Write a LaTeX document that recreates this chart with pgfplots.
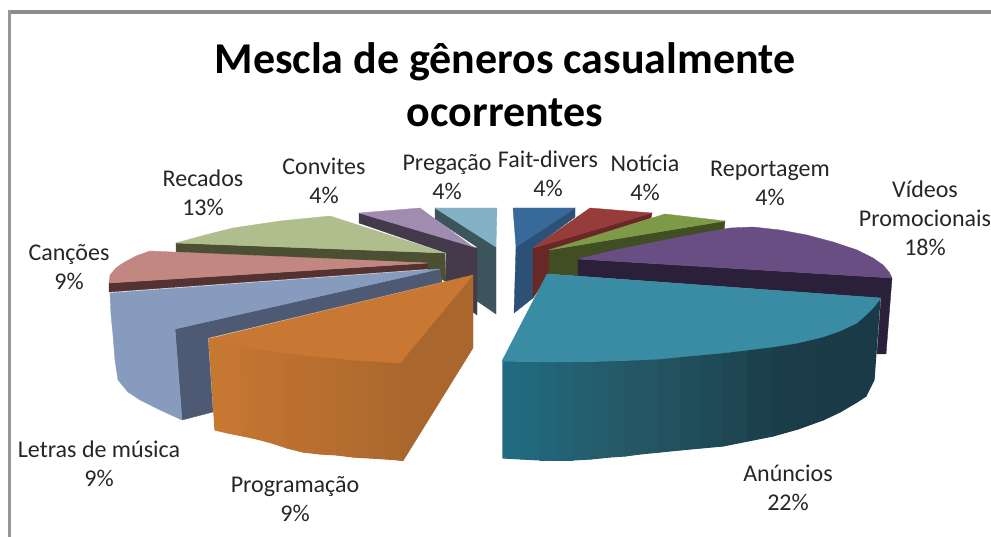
\documentclass[border=0pt]{standalone}
\usepackage{pgfplots}
\usepackage{fontspec}
\setmainfont{Carlito}
\pgfplotsset{compat=1.18}
\newcommand\poly[2]{\addplot[fill={#1},draw={#1},line width=0.35pt,forget plot] coordinates {#2} --cycle;}
\newcommand\strip[2]{\addplot[fill={#1},draw={#1},line width=1.1pt,line join=round,forget plot] coordinates {#2} --cycle;}
\newcommand\rgbc[3]{rgb,255:red,#1;green,#2;blue,#3}
\newcommand\lab[3]{\node[align=center,font=\fontsize{24}{29}\selectfont,text=black!85] at (axis cs:#1,#2) {#3};}
\begin{document}
\begin{tikzpicture}
\useasboundingbox (0,0) rectangle (991pt,537pt);
\begin{axis}[
  at={(0,0)}, anchor=south west,
  scale only axis, width=991pt, height=537pt,
  xmin=0, xmax=991, ymin=0, ymax=537, y dir=reverse,
  axis lines=none, clip=true
]
% frame
\poly{\rgbc{140}{140}{140}}{(8,10)(991,10)(991,13)(8,13)}
\poly{\rgbc{150}{150}{150}}{(8,10)(10,10)(10,537)(8,537)}
% Fait-divers
\poly{\rgbc{45}{80}{118}}{(516,247)(575,208)(575,217)(533,248)(533,298)(514,313)}
\poly{\rgbc{55}{105}{155}}{(513,208)(575,208)(516,247)}
% Pregacao
\poly{\rgbc{60}{85}{92}}{(435,208)(496,247)(496,314)(477,301)(477,247)(435,219)}
\poly{\rgbc{130}{178}{195}}{(435,208)(497,208)(496,247)}
% Convites
\poly{\rgbc{68}{58}{75}}{(359,213)(477,248)(477,315)(473,312)(473,275)(446,282)(446,253)(359,223)}
\poly{\rgbc{160}{140}{175}}{(359,213)(420,208)(473,247)(477,248)}
% Recados
\poly{\rgbc{75}{80}{50}}{(176,243)(445,253)(446,282)(428,270)(428,263)(176,253)}
\poly{\rgbc{175}{190}{140}}{(176,243)(205,235)(233,228)(280,221)(330,216)(445,253)}
% Cancoes
\poly{\rgbc{85}{50}{50}}{(109,283)(428,263)(428,269)(109,292)}
\poly{\rgbc{195}{135}{130}}{(109,283)(110,275)(116,268)(123,263)(136,256)(150,251)(428,263)}
% Letras de musica
\poly{\rgbc{78}{90}{115}}{(175,329)(440,269)(442,282)(208,338)(213,412)(182,420)}
\poly{\rgbc{135}{155}{190}}{(110,293)(440,269)(175,329)(182,420)(160,410)(140,400)(128,392)(118,380)(115,360)(113,335)(111,315)}
% Noticia
\poly{\rgbc{105}{40}{38}}{(533,248)(652,213)(651,218)(550,250)(549,274)(533,298)}
\poly{\rgbc{150}{60}{58}}{(533,248)(590,208)(652,213)}
% Reportagem
\poly{\rgbc{65}{77}{35}}{(549,250)(725,221)(724,231)(578,259)(578,276)(549,274)}
\poly{\rgbc{125}{155}{70}}{(549,250)(665,214)(725,221)}
% Videos Promocionais
\poly{\rgbc{42}{32}{58}}{(578,259)(892,278)(886,354)(877,354)(881,298)(578,276)}
\poly{\rgbc{104}{78}{130}}{(578,259)(615,250)(650,243)(680,237)(707,232)(730,228)(753,227)(780,230)(807,235)(833,242)(857,250)(873,258)(883,265)(889,272)(892,278)}
% Anuncios side
\strip{\rgbc{33}{107}{128}}{(503,361)(521,362)(521,459)(503,458)}
\strip{\rgbc{34}{104}{124}}{(521,362)(540,362)(540,460)(521,459)}
\strip{\rgbc{35}{101}{120}}{(540,362)(556,362)(556,460)(540,460)}
\strip{\rgbc{35}{98}{116}}{(556,362)(573,362)(573,460)(556,460)}
\strip{\rgbc{36}{95}{112}}{(573,362)(591,362)(591,459)(573,460)}
\strip{\rgbc{36}{92}{108}}{(591,362)(610,361)(610,457)(591,459)}
\strip{\rgbc{37}{90}{105}}{(610,361)(625,361)(625,456)(610,457)}
\strip{\rgbc{36}{87}{102}}{(625,361)(640,360)(640,454)(625,456)}
\strip{\rgbc{36}{85}{99}}{(640,360)(660,359)(660,452)(640,454)}
\strip{\rgbc{34}{81}{95}}{(660,359)(680,357)(680,450)(660,452)}
\strip{\rgbc{33}{78}{91}}{(680,357)(701,355)(701,448)(680,450)}
\strip{\rgbc{31}{74}{87}}{(701,355)(723,353)(723,446)(701,448)}
\strip{\rgbc{30}{70}{83}}{(723,353)(748,350)(748,441)(723,446)}
\strip{\rgbc{28}{65}{78}}{(748,350)(773,347)(773,436)(748,441)}
\strip{\rgbc{27}{61}{74}}{(773,347)(798,343)(798,429)(773,436)}
\strip{\rgbc{26}{59}{71}}{(798,343)(823,337)(823,420)(798,429)}
\strip{\rgbc{26}{58}{70}}{(823,337)(840,331)(840,412)(823,420)}
\strip{\rgbc{25}{58}{70}}{(840,331)(857,323)(857,402)(840,412)}
\strip{\rgbc{25}{58}{70}}{(857,323)(867,314)(866,396)(857,402)}
\strip{\rgbc{25}{58}{70}}{(867,314)(880,299)(874,380)(866,396)}
% Anuncios top
\poly{\rgbc{57}{140}{163}}{(547,274)(881,298)(874,307)(867,314)(857,323)(840,331)(823,337)(798,343)(773,347)(748,350)(723,353)(701,355)(680,357)(660,359)(640,360)(610,361)(573,362)(540,362)(502,361)}
% Programacao right cut
\poly{\rgbc{170}{103}{45}}{(473,275)(473,348)(403,461)(397,460)(397,363)}
% Programacao front
\strip{\rgbc{198}{119}{50}}{(209,339)(224,343)(228,433)(215,430)}
\strip{\rgbc{196}{118}{50}}{(224,343)(240,346)(243,436)(228,433)}
\strip{\rgbc{194}{117}{49}}{(240,346)(255,349)(257,439)(243,436)}
\strip{\rgbc{192}{115}{49}}{(255,349)(270,351)(272,443)(257,439)}
\strip{\rgbc{189}{114}{48}}{(270,351)(286,353)(287,448)(272,443)}
\strip{\rgbc{187}{112}{48}}{(286,353)(303,355)(303,452)(287,448)}
\strip{\rgbc{185}{111}{47}}{(303,355)(319,357)(320,454)(303,452)}
\strip{\rgbc{183}{110}{47}}{(319,357)(335,358)(337,455)(320,454)}
\strip{\rgbc{181}{109}{47}}{(335,358)(351,360)(353,457)(337,455)}
\strip{\rgbc{178}{107}{46}}{(351,360)(368,361)(370,458)(353,457)}
\strip{\rgbc{175}{106}{46}}{(368,361)(384,362)(386,459)(370,458)}
\strip{\rgbc{172}{104}{45}}{(384,362)(399,363)(401,460)(386,459)}
% Programacao top
\poly{\rgbc{200}{120}{50}}{(208,339)(473,275)(400,363)(384,362)(368,361)(351,360)(335,358)(319,357)(303,355)(286,353)(270,351)(255,349)(240,346)(224,343)}
% title
\node[align=center,font=\fontsize{44}{53}\selectfont\bfseries,text=black] at (axis cs:505,85) {Mescla de gêneros casualmente\\ocorrentes};
% labels
\lab{203}{193}{Recados\\13\%}
\lab{324}{181}{Convites\\4\%}
\lab{447}{177}{Pregação\\4\%}
\lab{548}{174}{Fait-divers\\4\%}
\lab{645}{178}{Notícia\\4\%}
\lab{770}{183}{Reportagem\\4\%}
\lab{925}{218}{Vídeos\\Promocionais\\18\%}
\lab{69}{267}{Canções\\9\%}
\lab{99}{464}{Letras de música\\9\%}
\lab{295}{499}{Programação\\9\%}
\lab{788}{488}{Anúncios\\22\%}
\end{axis}
\end{tikzpicture}
\end{document}
